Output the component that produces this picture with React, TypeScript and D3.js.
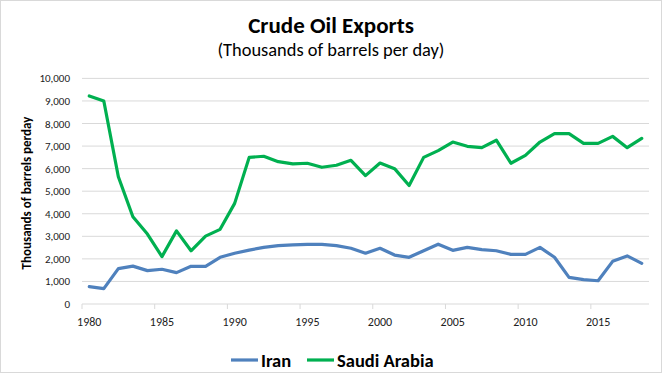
import React from 'react';
import * as d3 from 'd3';

const years = d3.range(1980, 2019);

const iran = [
  770, 680, 1570, 1680, 1480, 1540, 1390, 1670, 1670, 2070,
  2250, 2390, 2510, 2590, 2620, 2640, 2640, 2590, 2470, 2250,
  2470, 2170, 2070, 2360, 2650, 2380, 2510, 2410, 2360, 2200,
  2200, 2510, 2070, 1180, 1080, 1030, 1890, 2130, 1800,
];

const saudi = [
  9220, 9000, 5640, 3870, 3100, 2100, 3240, 2360, 3010, 3310,
  4460, 6500, 6550, 6310, 6210, 6240, 6060, 6150, 6370, 5690,
  6250, 6000, 5250, 6500, 6800, 7180, 6990, 6930, 7260, 6240,
  6590, 7180, 7550, 7550, 7120, 7120, 7430, 6930, 7340,
];

const yTicks = d3.range(0, 10001, 1000);
const xTickYears = [1980, 1985, 1990, 1995, 2000, 2005, 2010, 2015];

const series = [
  { name: 'Iran', values: iran, color: '#4F81BD' },
  { name: 'Saudi Arabia', values: saudi, color: '#00B050' },
];

const font = "Calibri, Carlito, Lato, sans-serif";

export default function App() {
  const width = 663;
  const height = 375;
  const plot = { left: 82, right: 649, top: 78.4, bottom: 304 };

  const x = d3.scaleBand<number>().domain(years).range([plot.left, plot.right]);
  const y = d3.scaleLinear().domain([0, 10000]).range([plot.bottom, plot.top]);
  const cx = (yr: number) => (x(yr) as number) + x.bandwidth() / 2;

  const line = d3.line<number>()
    .x((_, i) => cx(years[i]))
    .y(d => y(d));

  const fmt = d3.format(',');

  // legend layout
  const legend = [
    { lx: 231, tx: 261 },
    { lx: 307, tx: 337 },
  ];

  return (
    <svg width={width} height={height}
      style={{ position: 'fixed', left: 0, top: 0, display: 'block', background: '#fff' }}
      fontFamily={font}>
      <rect x={0.5} y={0.5} width={661} height={372} fill="#fff" stroke="#D9D9D9" />

      <text x={331} y={33} textAnchor="middle" fontSize={23} fontWeight="bold" fill="#000">
        Crude Oil Exports
      </text>
      <text x={331} y={56} textAnchor="middle" fontSize={18.4} fill="#000">
        (Thousands of barrels per day)
      </text>

      {/* gridlines */}
      {yTicks.filter(t => t > 0).map(t => (
        <line key={t} x1={plot.left} x2={plot.right} y1={y(t)} y2={y(t)} stroke="#D9D9D9" strokeWidth={1} />
      ))}
      {/* x axis */}
      <line x1={plot.left} x2={plot.right} y1={plot.bottom} y2={plot.bottom} stroke="#D9D9D9" />
      {xTickYears.map(yr => (
        <g key={yr}>
          <line x1={x(yr)} x2={x(yr)} y1={plot.bottom} y2={plot.bottom + 5} stroke="#D9D9D9" />
          <text x={cx(yr)} y={326} textAnchor="middle" fontSize={12} fill="#222">{yr}</text>
        </g>
      ))}
      {/* y labels */}
      {yTicks.map(t => (
        <text key={t} x={70} y={y(t) + 4} textAnchor="end" fontSize={11} fill="#222">{fmt(t)}</text>
      ))}
      <text transform="translate(31,193) rotate(-90)" textAnchor="middle" fontSize={13} fontWeight="bold" fill="#000">
        Thousands  of barrels perday
      </text>

      {series.map(s => (
        <path key={s.name} d={line(s.values) as string} fill="none" stroke={s.color}
          strokeWidth={3.2} strokeLinejoin="round" strokeLinecap="round" />
      ))}

      {series.map((s, i) => (
        <g key={s.name}>
          <line x1={legend[i].lx} x2={legend[i].lx + 27} y1={360} y2={360} stroke={s.color} strokeWidth={3.2} />
          <text x={legend[i].tx} y={366.5} fontSize={18.5} fontWeight="bold" fill="#000">{s.name}</text>
        </g>
      ))}
    </svg>
  );
}
